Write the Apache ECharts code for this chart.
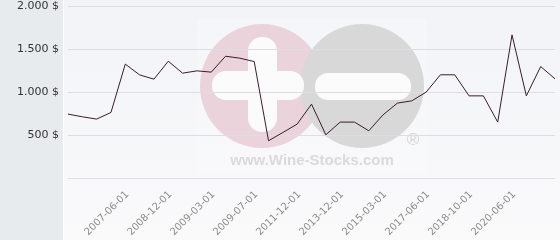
<!DOCTYPE html>
<html>
<head>
<meta charset="utf-8">
<script src="https://cdn.jsdelivr.net/npm/echarts@6/dist/echarts.min.js"></script>
<style>
html,body{margin:0;padding:0;background:#f6f7f9;}
#c{width:560px;height:240px;}
</style>
</head>
<body>
<div id="c"></div>
<script>
// Categories (only the labelled dates are readable in the reference; others left blank)
const dates = [
  '', '', '', '', '2007-06-01', '', '', '2008-12-01', '', '',
  '2009-03-01', '', '', '2009-07-01', '', '', '2011-12-01', '', '',
  '2013-12-01', '', '', '2015-03-01', '', '', '2017-06-01', '', '',
  '2018-10-01', '', '', '2020-06-01', '', '', ''
];
const prices = [
  743, 712, 685, 762, 1324, 1199, 1149, 1358, 1219, 1246,
  1231, 1416, 1393, 1354, 433, 529, 627, 859, 503, 650,
  650, 549, 735, 871, 897, 998, 1200, 1200, 955, 955,
  650, 1664, 955, 1296, 1153
];
const yTicks = [0, 500, 1000, 1500, 2000];

function fmt(v) {
  return String(v).replace(/\B(?=(\d{3})+(?!\d))/g, '.') + ' $';
}

const chart = echarts.init(document.getElementById('c'), null, {renderer: 'canvas'});
chart.setOption({
  animation: false,
  backgroundColor: 'transparent',
  grid: {left: 68, right: 5, top: 6, bottom: 62, containLabel: false},
  graphic: [
    {type: 'rect', z: -30, shape: {x: 0, y: 0, width: 63, height: 240}, style: {fill: '#e8ebee'}},
    {type: 'rect', z: -30, shape: {x: 63, y: 0, width: 1, height: 240}, style: {fill: '#ffffff'}},
    {type: 'rect', z: -30, shape: {x: 64, y: 0, width: 496, height: 240},
      style: {fill: new echarts.graphic.LinearGradient(0, 0, 0, 1, [
        {offset: 0, color: '#f2f3f7'}, {offset: 1, color: '#fafafb'}])}},
    {type: 'rect', z: -25, shape: {x: 197, y: 18, width: 230, height: 156}, style: {fill: 'rgba(255,255,255,0.2)'}},
    {type: 'circle', z: -20, shape: {cx: 262, cy: 86, r: 62}, style: {fill: '#ead3da'}},
    {type: 'circle', z: -19, shape: {cx: 362, cy: 86, r: 62}, style: {fill: '#d8d8d8'}},
    {type: 'rect', z: -18, shape: {x: 248, y: 37, width: 29, height: 95, r: 14}, style: {fill: '#fbfbfc'}},
    {type: 'rect', z: -18, shape: {x: 212, y: 71, width: 92, height: 29, r: 14}, style: {fill: '#fbfbfc'}},
    {type: 'rect', z: -18, shape: {x: 315, y: 73, width: 96, height: 27, r: 13}, style: {fill: '#fbfbfc'}},
    {type: 'text', z: -18, x: 312, y: 161, style: {text: 'www.Wine-Stocks.com', fill: '#dadada',
      font: 'bold 15px "Liberation Sans", Arial, sans-serif', textAlign: 'center', textVerticalAlign: 'middle'}},
    {type: 'text', z: -18, x: 413, y: 140, style: {text: '®', fill: '#d4d4d4',
      font: '17px "Liberation Sans", Arial, sans-serif', textAlign: 'center', textVerticalAlign: 'middle'}}
  ],
  xAxis: {
    type: 'category',
    data: dates,
    boundaryGap: false,
    axisLine: {show: true, lineStyle: {color: '#dedee2', width: 1}},
    axisTick: {show: false},
    splitLine: {show: false},
    axisLabel: {
      interval: 0, rotate: 45, margin: 17, fontSize: 10, padding: [0, -3, 0, 0],
      color: '#8c8c8c', fontFamily: '"DejaVu Sans", sans-serif'
    }
  },
  yAxis: {
    type: 'value',
    min: yTicks[0], max: yTicks[yTicks.length - 1], interval: 500,
    axisLine: {show: false},
    axisTick: {show: false},
    splitLine: {show: true, lineStyle: {color: '#dedee2', width: 1}},
    axisLabel: {
      margin: 9, fontSize: 11, color: '#333333', fontFamily: '"DejaVu Sans", sans-serif',
      showMinLabel: false,
      formatter: function (v) { return v === 0 ? '' : fmt(v); }
    }
  },
  series: [{
    type: 'line',
    data: prices,
    symbol: 'none',
    smooth: false,
    lineStyle: {color: '#3a1c2c', width: 1},
    z: 5
  }]
});
</script>
</body>
</html>
